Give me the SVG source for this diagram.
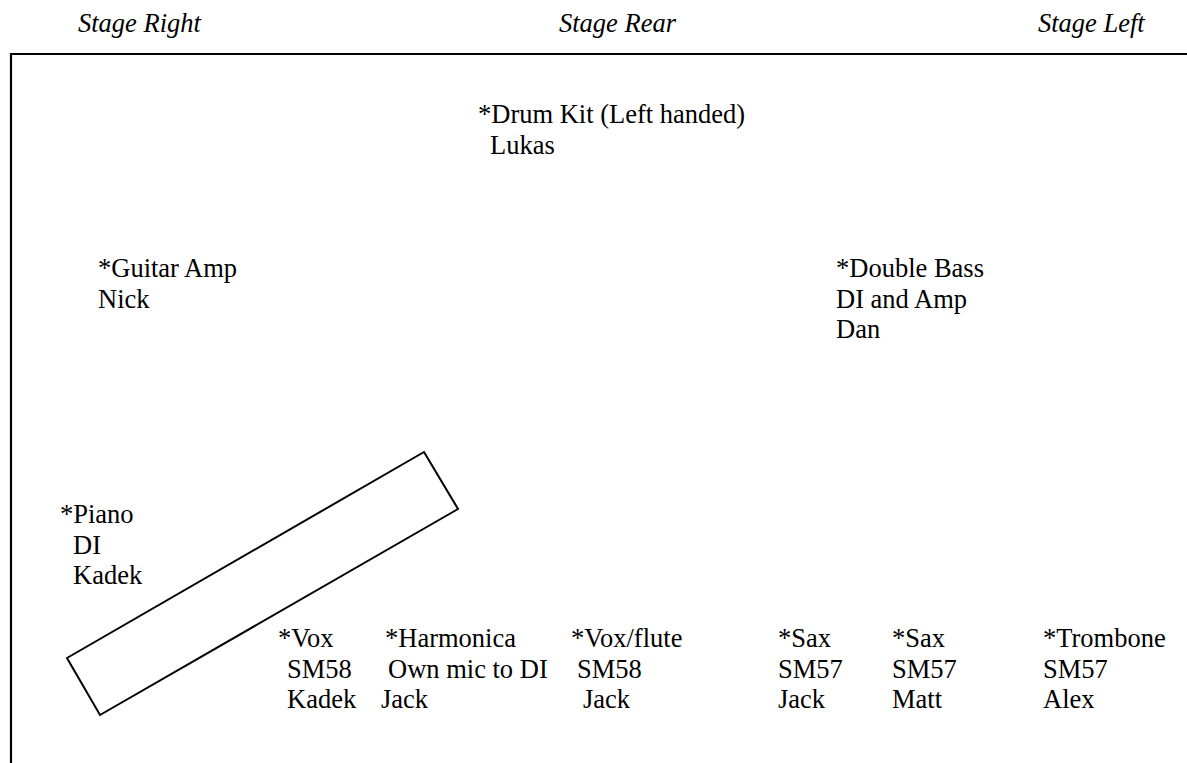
<svg xmlns="http://www.w3.org/2000/svg" width="1187" height="763" viewBox="0 0 1187 763">
<style>
text{font-family:"Liberation Serif","Times New Roman",serif;font-size:26.5px;fill:#000}
.h{font-style:italic}
.ln{fill:none;stroke:#000;stroke-width:2.2}
.pn{fill:#fff;stroke:#000;stroke-width:2}
</style>
<rect width="1187" height="763" fill="#fff"/>
<g id="frame">
<path class="ln" d="M11,763 V54 H1187"/>
</g>
<g id="headers">
<text class="h" x="78" y="32">Stage Right</text>
<text class="h" x="559" y="32">Stage Rear</text>
<text class="h" x="1038" y="32">Stage Left</text>
</g>
<g id="piano-shape">
<polygon class="pn" points="424,452 458,509 100,715 67,658"/>
</g>
<g id="connectors"></g>
<g id="drums">
<text x="478" y="123">*Drum Kit (Left handed)</text>
<text x="490" y="153.5">Lukas</text>
</g>
<g id="guitar">
<text x="98" y="277">*Guitar Amp</text>
<text x="98" y="307.5">Nick</text>
</g>
<g id="bass">
<text x="836" y="277">*Double Bass</text>
<text x="836" y="307.5">DI and Amp</text>
<text x="836" y="338">Dan</text>
</g>
<g id="piano">
<text x="60" y="523">*Piano</text>
<text x="73" y="553.5">DI</text>
<text x="73" y="584">Kadek</text>
</g>
<g id="vox1">
<text x="278" y="647">*Vox</text>
<text x="287" y="677.5">SM58</text>
<text x="287" y="708">Kadek</text>
</g>
<g id="harmonica">
<text x="385" y="647">*Harmonica</text>
<text x="388" y="677.5">Own mic to DI</text>
<text x="381" y="708">Jack</text>
</g>
<g id="voxflute">
<text x="571" y="647">*Vox/flute</text>
<text x="577" y="677.5">SM58</text>
<text x="583" y="708">Jack</text>
</g>
<g id="sax1">
<text x="778" y="647">*Sax</text>
<text x="778" y="677.5">SM57</text>
<text x="778" y="708">Jack</text>
</g>
<g id="sax2">
<text x="892" y="647">*Sax</text>
<text x="892" y="677.5">SM57</text>
<text x="892" y="708">Matt</text>
</g>
<g id="trombone">
<text x="1043" y="647">*Trombone</text>
<text x="1043" y="677.5">SM57</text>
<text x="1043" y="708">Alex</text>
</g>
</svg>
